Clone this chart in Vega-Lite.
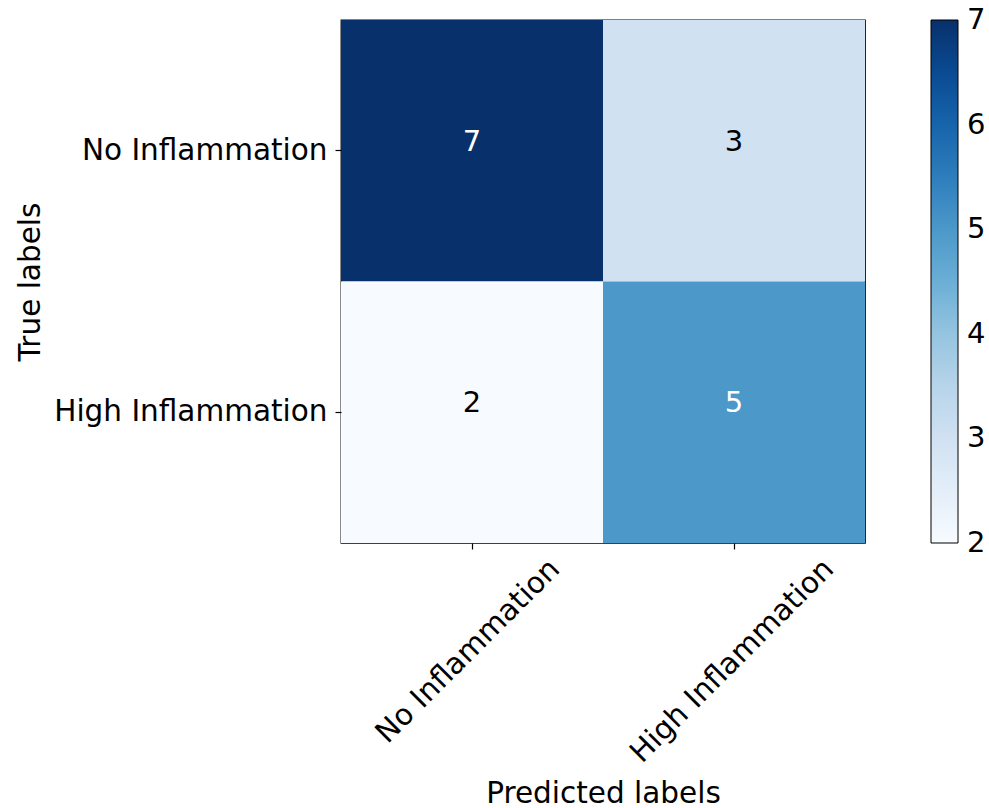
{
  "$schema": "https://vega.github.io/schema/vega-lite/v6.json",
  "width": 524,
  "height": 523,
  "autosize": {"type": "none"},
  "padding": {"left": 341, "top": 20, "right": 124, "bottom": 265},
  "background": "white",
  "config": {
    "font": "DejaVu Sans",
    "view": {"stroke": "black", "strokeWidth": 1.3},
    "axis": {"grid": false, "domain": false, "tickColor": "black", "tickWidth": 1.2, "tickSize": 6, "labelColor": "black", "titleColor": "black", "labelFontSize": 29.5, "titleFontSize": 29.5, "titleFontWeight": "normal", "labelPadding": 5, "labelLimit": 0}
  },
  "data": {
    "values": [
      {"true": "No Inflammation", "pred": "No Inflammation", "count": 7},
      {"true": "No Inflammation", "pred": "High Inflammation", "count": 3},
      {"true": "High Inflammation", "pred": "No Inflammation", "count": 2},
      {"true": "High Inflammation", "pred": "High Inflammation", "count": 5}
    ]
  },
  "encoding": {
    "x": {
      "field": "pred", "type": "nominal",
      "sort": ["No Inflammation", "High Inflammation"],
      "scale": {"paddingInner": 0, "paddingOuter": 0},
      "axis": {
        "title": "Predicted labels",
        "labelAngle": -45,
        "labelAlign": "right",
        "labelBaseline": "top",
        "labelOffset": {"condition": {"test": "datum.value === 'High Inflammation'", "value": 85}, "value": 73},
        "titleBaseline": "alphabetic",
        "titleY": 259
      }
    },
    "y": {
      "field": "true", "type": "nominal",
      "sort": ["No Inflammation", "High Inflammation"],
      "scale": {"paddingInner": 0, "paddingOuter": 0},
      "axis": {
        "title": "True labels",
        "labelAlign": "right",
        "labelBaseline": "middle",
        "labelPadding": 8,
        "titleBaseline": "alphabetic",
        "titleX": -302
      }
    }
  },
  "layer": [
    {
      "mark": {"type": "rect"},
      "encoding": {
        "color": {
          "field": "count", "type": "quantitative",
          "scale": {
            "domain": [2, 2.625, 3.25, 3.875, 4.5, 5.125, 5.75, 6.375, 7],
            "range": ["#f7fbff", "#deebf7", "#c6dbef", "#9ecae1", "#6baed6", "#4292c6", "#2171b5", "#08519c", "#08306b"]
          },
          "legend": {
            "title": null,
            "orient": "none",
            "legendX": 590,
            "legendY": 0,
            "direction": "vertical",
            "gradientLength": 523,
            "gradientThickness": 27,
            "gradientStrokeColor": "black",
            "gradientStrokeWidth": 1,
            "values": [2, 3, 4, 5, 6, 7],
            "format": "d",
            "labelFontSize": 29,
            "labelColor": "black",
            "labelOffset": 9,
            "labelBaseline": "middle",
            "labelOverlap": false,
            "encode": {"labels": {"update": {"baseline": {"value": "middle"}}}}
          }
        }
      }
    },
    {
      "mark": {"type": "text", "fontSize": 29, "baseline": "alphabetic", "align": "center"},
      "encoding": {
        "text": {"field": "count", "type": "quantitative"},
        "color": {
          "condition": {"test": "datum.count > 4.5", "value": "white"},
          "value": "black"
        }
      }
    }
  ]
}
